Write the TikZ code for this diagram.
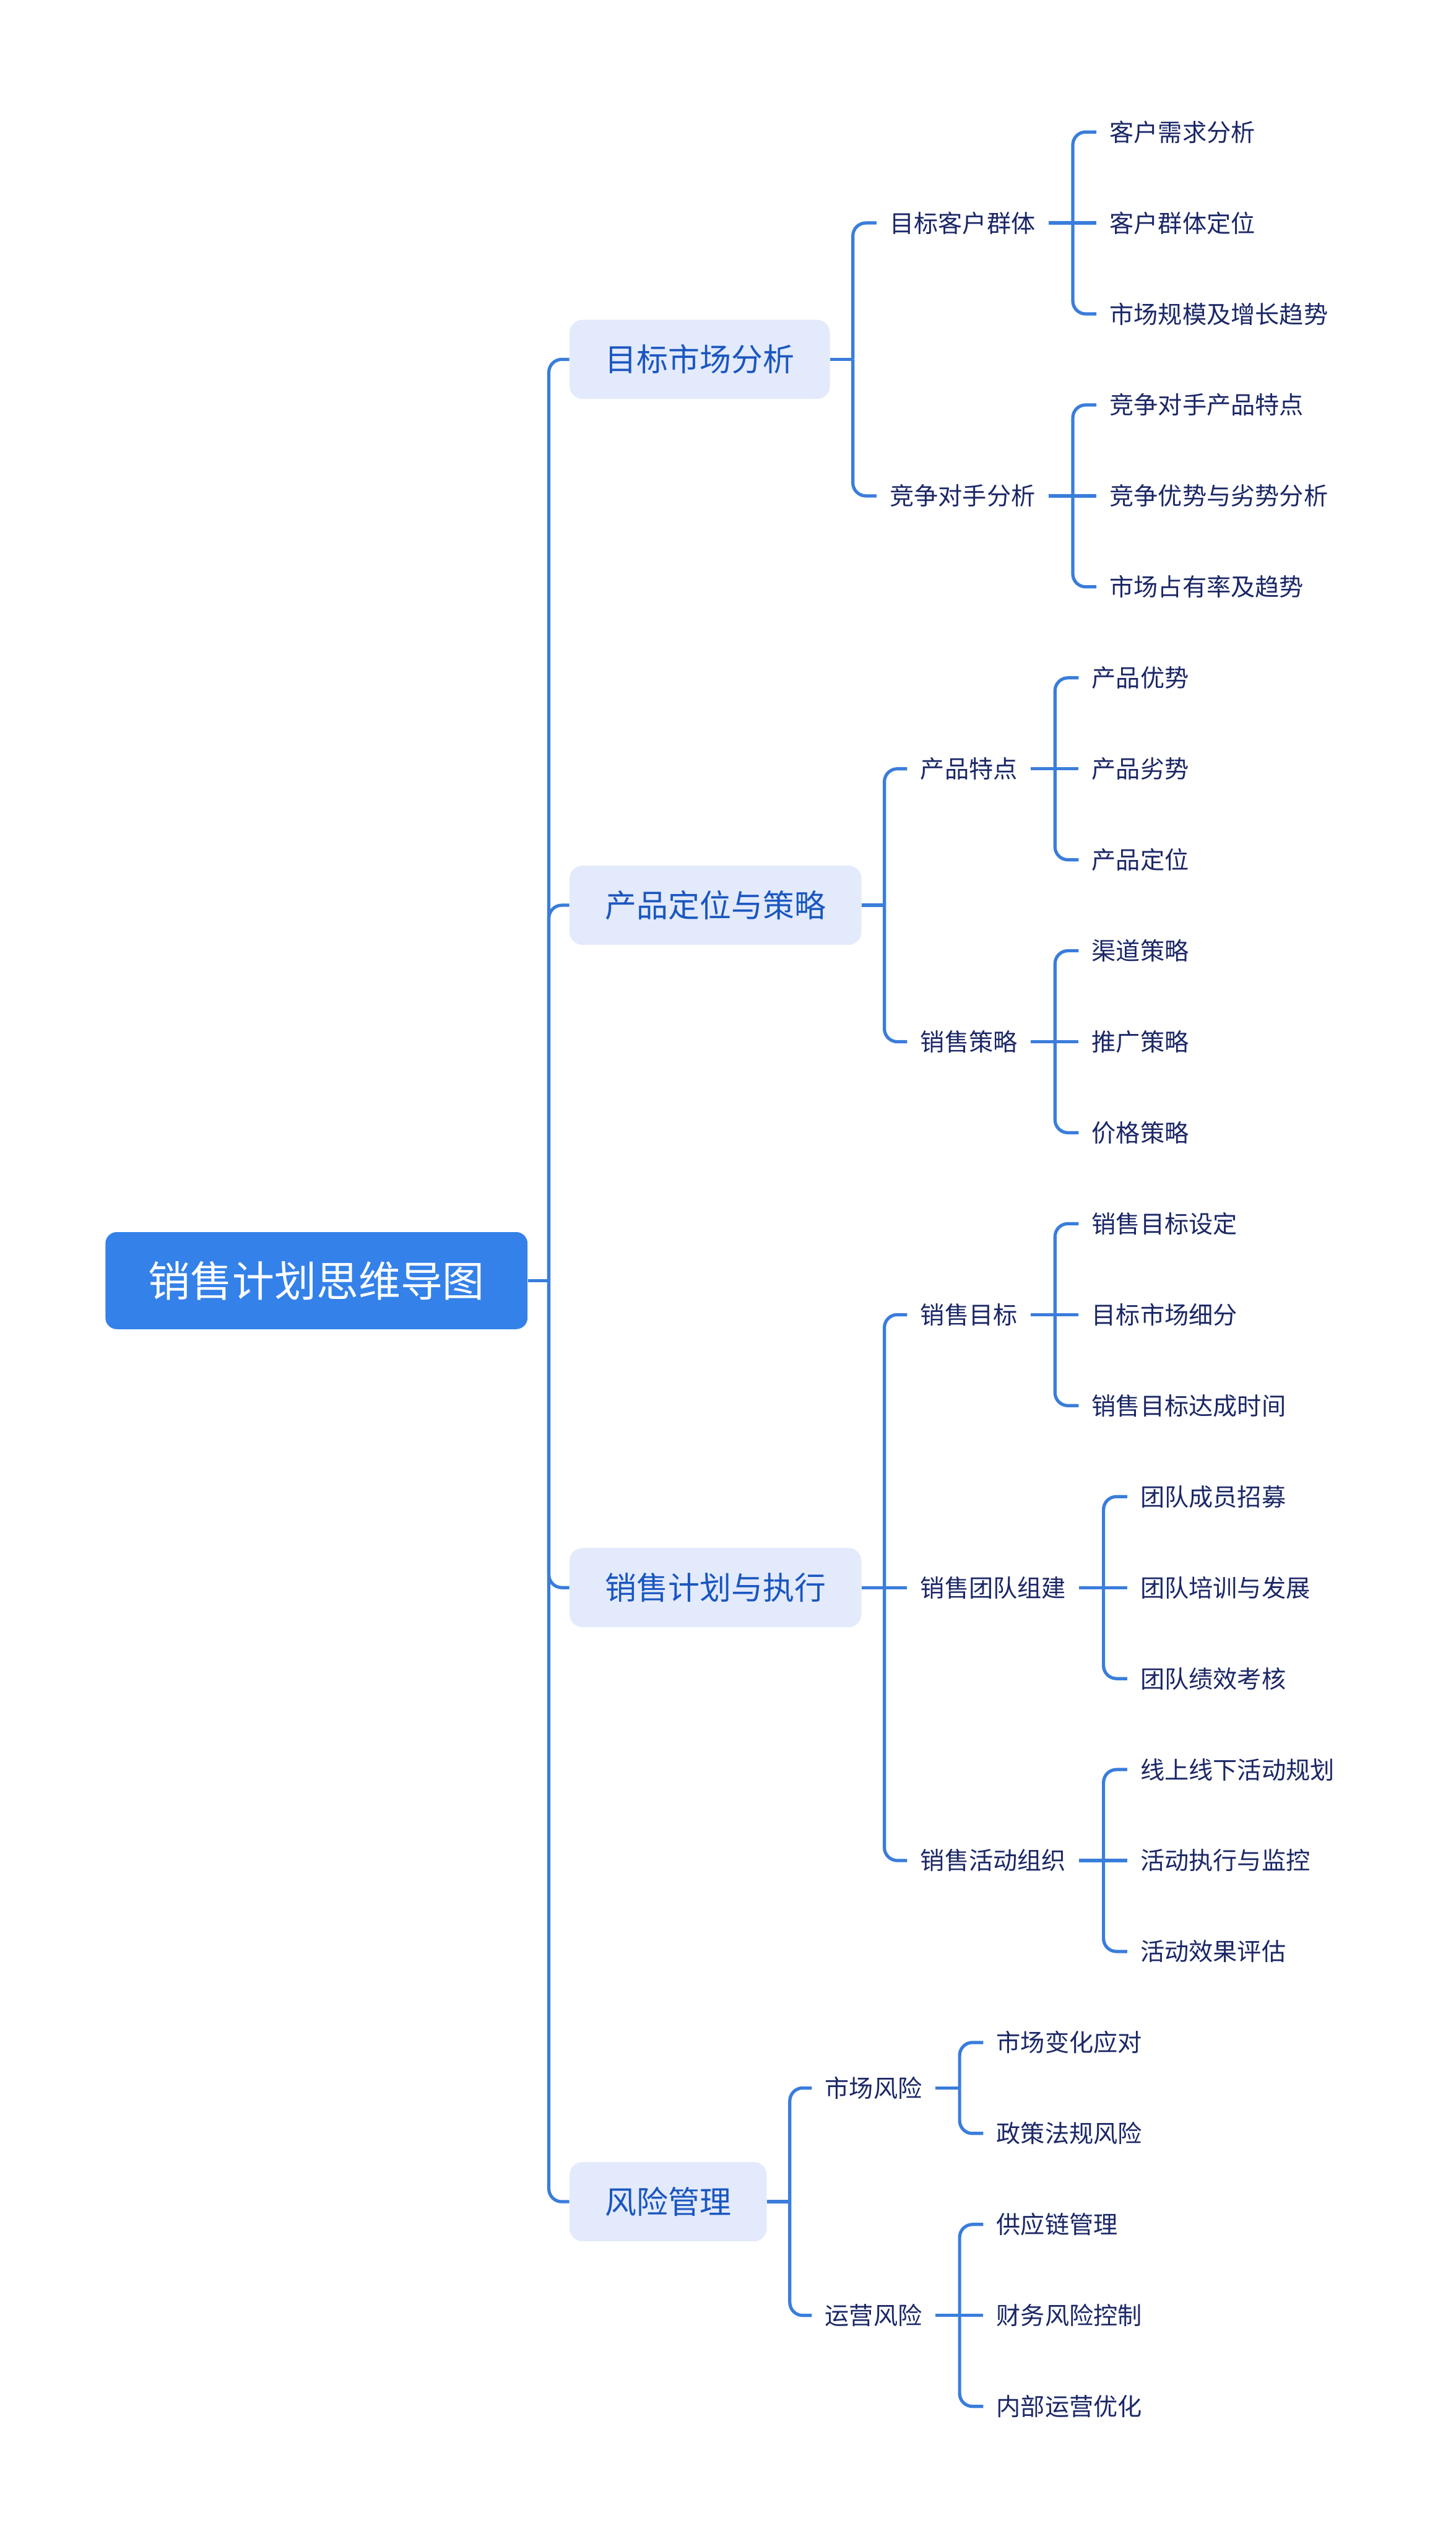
\documentclass[tikz,border=0pt]{standalone}
\usepackage{fontspec}
\setmainfont{Noto Sans CJK SC}
\usetikzlibrary{calc}
\definecolor{rootblue}{HTML}{3381E9}
\definecolor{lineblue}{HTML}{3A7DDB}
\definecolor{lonefill}{HTML}{E3EAFB}
\definecolor{lonetext}{HTML}{1A56C0}
\definecolor{navy}{HTML}{1B2766}
\tikzset{
  rootbox/.style={fill=rootblue,text=white,rounded corners=7pt,minimum height=60pt,inner xsep=26.5pt,anchor=west,font=\fontsize{26}{30}\selectfont},
  lonebox/.style={fill=lonefill,text=lonetext,rounded corners=8pt,minimum height=49pt,inner xsep=22pt,anchor=west,font=\fontsize{19.5}{23}\selectfont},
  txt/.style={text=navy,inner xsep=8pt,inner ysep=4pt,anchor=west,font=\fontsize{15}{18}\selectfont},
  conn/.style={draw=lineblue,line width=2pt,rounded corners=8pt},
  straight/.style={draw=lineblue,line width=2pt},
}
\begin{document}
\begin{tikzpicture}[x=1pt,y=-1pt]
\useasboundingbox (0,0) rectangle (900,1568);
% root
\node[rootbox] (root) at (65,791.8) {销售计划思维导图};
% level 1
\node[lonebox] (a) at (352,222.2) {目标市场分析};
\node[lonebox] (b) at (352,559.7) {产品定位与策略};
\node[lonebox] (c) at (352,981.6) {销售计划与执行};
\node[lonebox] (d) at (352,1361.3) {风险管理};
% level 2
\node[txt] (a1) at (542,137.85) {目标客户群体};
\node[txt] (a2) at (542,306.6) {竞争对手分析};
\node[txt] (b1) at (561,475.35) {产品特点};
\node[txt] (b2) at (561,644.1) {销售策略};
\node[txt] (c1) at (561,812.85) {销售目标};
\node[txt] (c2) at (561,981.6) {销售团队组建};
\node[txt] (c3) at (561,1150.35) {销售活动组织};
\node[txt] (d1) at (502,1290.98) {市场风险};
\node[txt] (d2) at (502,1431.6) {运营风险};
% level 3
\node[txt] (a11) at (678,81.6) {客户需求分析};
\node[txt] (a12) at (678,137.85) {客户群体定位};
\node[txt] (a13) at (678,194.1) {市场规模及增长趋势};
\node[txt] (a21) at (678,250.35) {竞争对手产品特点};
\node[txt] (a22) at (678,306.6) {竞争优势与劣势分析};
\node[txt] (a23) at (678,362.85) {市场占有率及趋势};
\node[txt] (b11) at (667,419.1) {产品优势};
\node[txt] (b12) at (667,475.35) {产品劣势};
\node[txt] (b13) at (667,531.6) {产品定位};
\node[txt] (b21) at (667,587.85) {渠道策略};
\node[txt] (b22) at (667,644.1) {推广策略};
\node[txt] (b23) at (667,700.35) {价格策略};
\node[txt] (c11) at (667,756.6) {销售目标设定};
\node[txt] (c12) at (667,812.85) {目标市场细分};
\node[txt] (c13) at (667,869.1) {销售目标达成时间};
\node[txt] (c21) at (697,925.35) {团队成员招募};
\node[txt] (c22) at (697,981.6) {团队培训与发展};
\node[txt] (c23) at (697,1037.85) {团队绩效考核};
\node[txt] (c31) at (697,1094.1) {线上线下活动规划};
\node[txt] (c32) at (697,1150.35) {活动执行与监控};
\node[txt] (c33) at (697,1206.6) {活动效果评估};
\node[txt] (d11) at (608,1262.85) {市场变化应对};
\node[txt] (d12) at (608,1319.1) {政策法规风险};
\node[txt] (d21) at (608,1375.35) {供应链管理};
\node[txt] (d22) at (608,1431.6) {财务风险控制};
\node[txt] (d23) at (608,1487.85) {内部运营优化};
% spine coordinates
\coordinate (s0) at ($(root.east)+(13,0)$);
\coordinate (sa) at ($(a.east)+(14,0)$);
\coordinate (sb) at ($(b.east)+(14,0)$);
\coordinate (sc) at ($(c.east)+(14,0)$);
\coordinate (sd) at ($(d.east)+(14,0)$);
\foreach \p in {a1,a2,b1,b2,c1,c2,c3,d1,d2}{
  \coordinate (s\p) at ($(\p.east)+(15,0)$);
}
% connectors
\draw[straight] (root.east) -- (s0);
\foreach \c in {a,b,c,d}{ \draw[conn] (s0) |- (\c.west); }
% level 1 -> level 2 (outer children)
\foreach \p/\t/\b in {a/a1/a2,b/b1/b2,c/c1/c3,d/d1/d2}{
  \draw[straight] (\p.east) -- (s\p);
  \draw[conn] (s\p) |- (\t.west);
  \draw[conn] (s\p) |- (\b.west);
}
\draw[straight] (sc) -- (c2.west);
% level 2 -> level 3
\foreach \p/\t/\b in {a1/a11/a13,a2/a21/a23,b1/b11/b13,b2/b21/b23,c1/c11/c13,c2/c21/c23,c3/c31/c33,d1/d11/d12,d2/d21/d23}{
  \draw[straight] (\p.east) -- (s\p);
  \draw[conn] (s\p) |- (\t.west);
  \draw[conn] (s\p) |- (\b.west);
}
\foreach \p/\m in {a1/a12,a2/a22,b1/b12,b2/b22,c1/c12,c2/c22,c3/c32,d2/d22}{
  \draw[straight] (s\p) -- (\m.west);
}
\end{tikzpicture}
\end{document}
